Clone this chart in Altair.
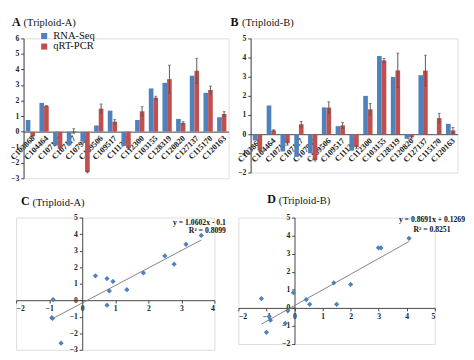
import altair as alt
import pandas as pd

FONT = "Liberation Serif"
BLUE = "#4F81BD"
RED = "#C0504D"
AXC = "#404040"

genes = ["C103868", "C104464", "C107178", "C107117", "C107947", "C109506", "C109517",
         "C111304", "C112300", "C103155", "C128319", "C120820", "C127137", "C115170", "C120163"]
series = ["RNA-Seq", "qRT-PCR"]

# Triploid-A
a_rna = [0.75, 1.85, -0.9, -0.88, -0.64, 0.4, 1.35, -0.92, 0.75, 2.78, 3.14, 0.82, 3.6, 2.5, 0.93]
a_qrt = [-0.3, 1.65, -1.1, 0.04, -2.6, 1.48, 0.64, -1.06, 1.31, 2.18, 3.38, 0.56, 3.92, 2.68, 1.14]
a_err = [0.05, 0.04, 0.1, 0.15, 0.05, 0.3, 0.15, 0.08, 0.3, 0.1, 0.9, 0.08, 0.8, 0.25, 0.15]

# Triploid-B
b_rna = [-0.33, 1.5, -0.9, -1.18, -1.0, 1.4, 0.42, -0.86, 2.0, 4.08, 2.99, -0.24, 3.08, -0.04, 0.54]
b_qrt = [-0.85, 0.2, -0.47, 0.52, -1.35, 1.39, 0.46, -0.68, 1.3, 3.85, 3.33, -0.16, 3.32, 0.84, 0.2]
b_err = [0.05, 0.03, 0.1, 0.15, 0.05, 0.3, 0.15, 0.08, 0.3, 0.1, 0.9, 0.05, 0.8, 0.25, 0.15]

eq_a = ["y = 1.0602x - 0.1", "R² = 0.8099"]
eq_b = ["y = 0.8691x + 0.1269", "R² = 0.8251"]


def long_df(rna, qrt, err):
    rows = []
    for i, g in enumerate(genes):
        rows.append({"gene": g, "series": series[0], "value": rna[i], "err": 0.0})
        rows.append({"gene": g, "series": series[1], "value": qrt[i], "err": err[i]})
    return pd.DataFrame(rows)


def title_layers(letter, label, x0, y0):
    d = pd.DataFrame({"t": [letter]})
    t1 = alt.Chart(d).mark_text(text=letter, font=FONT, fontSize=12.5, fontWeight="bold",
                                align="left", baseline="top", color="#111").encode(
        x=alt.value(x0), y=alt.value(y0))
    t2 = alt.Chart(d).mark_text(text=label, font=FONT, fontSize=11, align="left",
                                baseline="top", color="#111").encode(
        x=alt.value(x0 + 12), y=alt.value(y0 + 1.5))
    return [t1, t2]


def axis_common():
    return dict(title=None, grid=False, tickCount=30, format="d", labelFont=FONT,
                labelFontSize=8, labelFontWeight="bold", labelColor="#222", tickSize=3,
                tickColor=AXC, domainColor=AXC, labelPadding=2, labelOverlap=False)


def bar_panel(rna, qrt, err, ymin, ymax, w, h, letter, label, tx, ty, lx, ly):
    df = long_df(rna, qrt, err)
    zero_off = -h * (0 - ymin) / (ymax - ymin)
    xenc = alt.X("gene:N", sort=genes,
                 scale=alt.Scale(paddingInner=0.32, paddingOuter=0.16),
                 axis=alt.Axis(title=None, labelAngle=-45, labelFont=FONT, labelFontSize=8.5,
                               labelFontWeight="bold", labelColor="#222", ticks=False,
                               domainColor=AXC, labelPadding=2, offset=zero_off,
                               labelOverlap=False))
    xoff = alt.XOffset("series:N", sort=series, scale=alt.Scale(paddingInner=0, paddingOuter=0))
    yscale = alt.Scale(domain=[ymin, ymax], nice=False)
    yaxis = alt.Axis(values=list(range(ymin, ymax + 1)), minExtent=0, **axis_common())
    bars = alt.Chart(df).mark_bar().encode(
        x=xenc, xOffset=xoff,
        y=alt.Y("value:Q", scale=yscale, axis=yaxis),
        color=alt.Color("series:N", sort=series,
                        scale=alt.Scale(domain=series, range=[BLUE, RED]),
                        legend=alt.Legend(title=None, orient="none", legendX=lx, legendY=ly,
                                          symbolType="square", symbolSize=40,
                                          labelFont=FONT, labelFontSize=11, rowPadding=-1,
                                          symbolStrokeWidth=0, labelColor="#111")))
    ebase = alt.Chart(df).transform_filter("datum.err > 0").transform_calculate(
        lo="datum.value - datum.err", hi="datum.value + datum.err")
    rules = ebase.mark_rule(color="#555", strokeWidth=1).encode(
        x=alt.X("gene:N", sort=genes), xOffset=xoff,
        y=alt.Y("lo:Q", scale=yscale), y2="hi:Q")
    caps_hi = ebase.mark_tick(color="#555", size=3, thickness=1).encode(
        x=alt.X("gene:N", sort=genes), xOffset=xoff, y=alt.Y("hi:Q", scale=yscale))
    caps_lo = ebase.mark_tick(color="#555", size=3, thickness=1).encode(
        x=alt.X("gene:N", sort=genes), xOffset=xoff, y=alt.Y("lo:Q", scale=yscale))
    return alt.layer(bars, rules, caps_hi, caps_lo, *title_layers(letter, label, tx, ty)).properties(
        width=w, height=h)


def scatter_panel(xs, ys, xmin, xmax, ymin, ymax, w, h, letter, label, tx, ty,
                  eq, ex, ey, egap, ealign):
    df = pd.DataFrame({"x": xs, "y": ys})
    xsc = alt.Scale(domain=[xmin, xmax], nice=False, zero=False)
    ysc = alt.Scale(domain=[ymin, ymax], nice=False, zero=False)
    xaxis = alt.Axis(values=list(range(xmin, xmax + 1)),
                     offset=-h * (0 - ymin) / (ymax - ymin), **axis_common())
    yaxis = alt.Axis(values=list(range(ymin, ymax + 1)),
                     offset=-w * (0 - xmin) / (xmax - xmin), minExtent=0, **axis_common())
    pts = alt.Chart(df).mark_point(shape="diamond", filled=True, size=30, color=BLUE,
                                   opacity=1).encode(
        x=alt.X("x:Q", scale=xsc, axis=xaxis), y=alt.Y("y:Q", scale=ysc, axis=yaxis))
    line = alt.Chart(df).transform_regression("x", "y").mark_line(
        color="#7f7f7f", strokeWidth=1).encode(x=alt.X("x:Q", scale=xsc), y=alt.Y("y:Q", scale=ysc))
    d = pd.DataFrame({"t": [0]})
    e1 = alt.Chart(d).mark_text(text=eq[0], font=FONT, fontSize=8, fontWeight="bold",
                                align=ealign, baseline="alphabetic", color="#111").encode(
        x=alt.value(ex), y=alt.value(ey))
    e2 = alt.Chart(d).mark_text(text=eq[1], font=FONT, fontSize=8, fontWeight="bold",
                                align=ealign, baseline="alphabetic", color="#111").encode(
        x=alt.value(ex), y=alt.value(ey + egap))
    return alt.layer(line, pts, e1, e2, *title_layers(letter, label, tx, ty)).properties(
        width=w, height=h)


pA = bar_panel(a_rna, a_qrt, a_err, -3, 6, 214, 146, "A", "(Triploid-A)", -12, -23, 16, -8)
pB = bar_panel(b_rna, b_qrt, b_err, -2, 5, 216, 140, "B", "(Triploid-B)", -21, -23, 17, -8)
pC = scatter_panel(a_rna, a_qrt, -2, 4, -3, 5, 207, 138, "C", "(Triploid-A)", 5, -23,
                   eq_a, 219, 8, 8.5, "right")
pD = scatter_panel(b_rna, b_qrt, -2, 5, -2, 5, 205, 132, "D", "(Triploid-B)", 30, -25,
                   eq_b, 202, 5, 10, "center")

row1 = alt.hconcat(pA, pB, spacing=0)
row2 = alt.hconcat(pC, pD, spacing=11)
chart = alt.vconcat(row1, row2, spacing=10, center=True).resolve_scale(
    color="independent").properties(padding=0).configure_view(stroke=None).configure(
    background="white")

chart.save("out.html", embed_options={"renderer": "svg", "actions": False})
